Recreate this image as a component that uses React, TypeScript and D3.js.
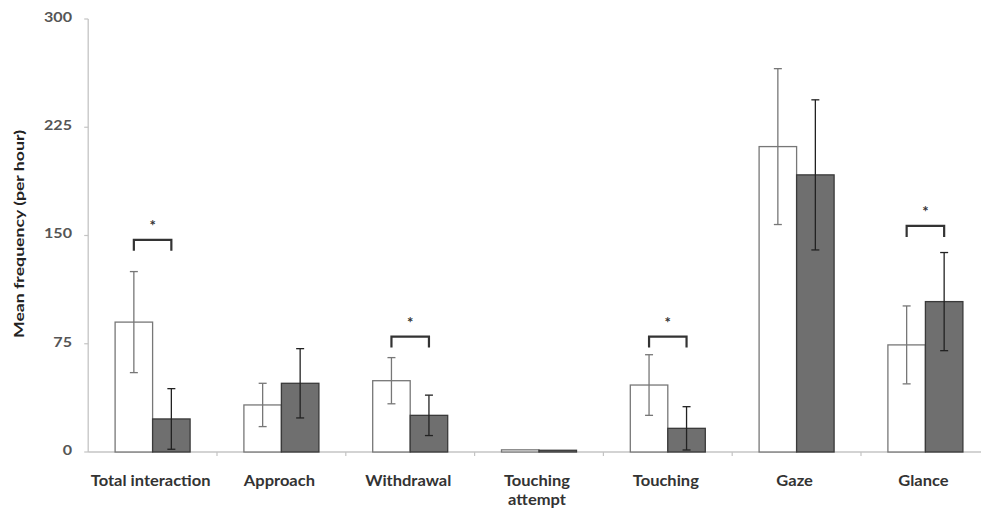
import React from "react";
import * as d3 from "d3";

const categories = ["Total interaction", "Approach", "Withdrawal", "Touching attempt", "Touching", "Gaze", "Glance"];
const whiteValues = [90, 32.6, 49.4, 1.5, 46.4, 211.6, 74.2];
const whiteErrors = [35, 15, 16, 0, 21, 54, 27];
const greyValues = [22.9, 47.6, 25.4, 1.2, 16.4, 192, 104.2];
const greyErrors = [21, 24, 14, 0, 15, 52, 34];
const yTicks = [0, 75, 150, 225, 300];
const significant = ["Total interaction", "Withdrawal", "Touching", "Glance"];
const bracketTops = [147, null, 80, null, 80, null, 156.6];

const W = 981;
const H = 510;
const left = 88.2;
const right = 989.8;
const top = 19;
const bottom = 452;

export default function App() {
  const x = d3.scaleBand<string>().domain(categories).range([left, right]).paddingInner(0).paddingOuter(0);
  const y = d3.scaleLinear().domain([0, 300]).range([bottom, top]);
  const bw = 37.5;
  const font = "Lato, 'Open Sans', sans-serif";

  return (
    <svg width={W} height={H} style={{ position: "absolute", left: 0, top: 0, background: "#fff" }}>
      {/* y axis */}
      <line x1={left} x2={left} y1={top} y2={bottom} stroke="#c4c4c4" strokeWidth={1.3} />
      {yTicks.map((t) => (
        <g key={t}>
          <line x1={left - 4} x2={left} y1={y(t)} y2={y(t)} stroke="#c4c4c4" strokeWidth={1.2} />
          <text
            transform={`translate(72, ${y(t) - 2}) scale(1.15, 1)`}
            dy="0.35em"
            textAnchor="end"
            fontSize={14}
            fontFamily={font}
            fontWeight={700}
            fill="#555"
          >
            {t}
          </text>
        </g>
      ))}
      <text
        transform={`translate(24, 234) rotate(-90)`}
        textAnchor="middle"
        fontSize={13.5}
        fontFamily={font}
        fontWeight={700}
        fill="#222"
        textLength={208}
        lengthAdjust="spacingAndGlyphs"
      >
        Mean frequency (per hour)
      </text>
      {/* x axis */}
      <line x1={left} x2={W} y1={bottom} y2={bottom} stroke="#c4c4c4" strokeWidth={1.3} />
      {categories.map((c, i) =>
        i > 0 ? (
          <line key={"t" + c} x1={x(c)!} x2={x(c)!} y1={bottom} y2={bottom + 4} stroke="#c4c4c4" strokeWidth={1.2} />
        ) : null
      )}
      {categories.map((c, i) => {
        const cx = x(c)! + x.bandwidth() / 2;
        const wx = cx - bw;
        const gx = cx;
        const wc = wx + bw / 2;
        const gc = gx + bw / 2;
        const wv = whiteValues[i];
        const gv = greyValues[i];
        const we = whiteErrors[i];
        const ge = greyErrors[i];
        const lines = c === "Touching attempt" ? ["Touching", "attempt"] : [c];
        const bt = bracketTops[i];
        return (
          <g key={c}>
            <rect x={wx} y={y(wv)} width={bw} height={bottom - y(wv)} fill="#fff" stroke="#777" strokeWidth={1.3} />
            <rect x={gx} y={y(gv)} width={bw} height={bottom - y(gv)} fill="#6f6f6f" stroke="#3a3a3a" strokeWidth={1.3} />
            {we > 0 && (
              <g stroke="#777" strokeWidth={1.3}>
                <line x1={wc} x2={wc} y1={y(wv + we)} y2={y(Math.max(0, wv - we))} />
                <line x1={wc - 4} x2={wc + 4} y1={y(wv + we)} y2={y(wv + we)} />
                <line x1={wc - 4} x2={wc + 4} y1={y(Math.max(0, wv - we))} y2={y(Math.max(0, wv - we))} />
              </g>
            )}
            {ge > 0 && (
              <g stroke="#222" strokeWidth={1.3}>
                <line x1={gc} x2={gc} y1={y(gv + ge)} y2={y(Math.max(0, gv - ge))} />
                <line x1={gc - 4} x2={gc + 4} y1={y(gv + ge)} y2={y(gv + ge)} />
                <line x1={gc - 4} x2={gc + 4} y1={y(Math.max(0, gv - ge))} y2={y(Math.max(0, gv - ge))} />
              </g>
            )}
            {significant.includes(c) && bt !== null && (
              <g>
                <path
                  d={`M${wc},${y(bt) + 11} V${y(bt)} H${gc} V${y(bt) + 11}`}
                  fill="none"
                  stroke="#333"
                  strokeWidth={2.2}
                />
                <text x={cx} y={y(bt) - 9} textAnchor="middle" fontSize={15} fontFamily={font} fontWeight={700} fill="#333">
                  *
                </text>
              </g>
            )}
            {lines.map((l, k) => (
              <text
                key={l}
                transform={`translate(${cx - 2}, ${486 + k * 19}) scale(1.1, 1)`}
                textAnchor="middle"
                fontSize={15}
                fontFamily={font}
                fontWeight={700}
                fill="#333"
              >
                {l}
              </text>
            ))}
          </g>
        );
      })}
    </svg>
  );
}
